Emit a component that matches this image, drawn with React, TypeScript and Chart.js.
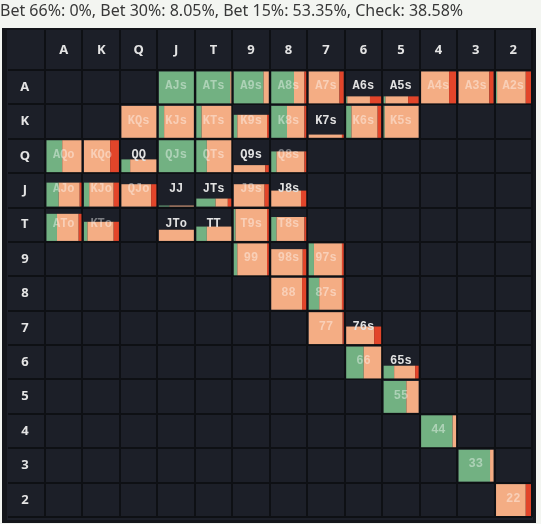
import { useEffect, useRef } from 'react';
import { Chart, registerables } from 'chart.js';

Chart.register(...registerables);

const TITLE = 'Bet 66%: 0%, Bet 30%: 8.05%, Bet 15%: 53.35%, Check: 38.58%';
const RANKS = ['A', 'K', 'Q', 'J', 'T', '9', '8', '7', '6', '5', '4', '3', '2'];

const HANDS = [
  'AJs', 'ATs', 'A9s', 'A8s', 'A7s', 'A6s', 'A5s', 'A4s', 'A3s', 'A2s',
  'KQs', 'KJs', 'KTs', 'K9s', 'K8s', 'K7s', 'K6s', 'K5s',
  'AQo', 'KQo', 'QQ', 'QJs', 'QTs', 'Q9s', 'Q8s',
  'AJo', 'KJo', 'QJo', 'JJ', 'JTs', 'J9s', 'J8s',
  'ATo', 'KTo', 'JTo', 'TT', 'T9s', 'T8s',
  '99', '98s', '97s',
  '88', '87s',
  '77', '76s',
  '66', '65s',
  '55', '44', '33', '22',
];
// share of the combo in range (height of the fill)
const WEIGHT = [
  1, 1, 1, 1, 1, 0.22, 0.22, 1, 1, 1,
  1, 1, 1, 0.72, 1, 0.1, 1, 1,
  1, 1, 0.4, 1, 1, 0.22, 0.65,
  0.75, 0.75, 0.7, 0.03, 0.25, 0.7, 0.5,
  0.85, 0.6, 0.35, 0.45, 1, 0.75,
  1, 0.82, 1,
  1, 1,
  1, 0.55,
  1, 0.4,
  1, 1, 1, 1,
];
const CHECK = [
  1, 0.97, 0.85, 0.65, 0, 0.03, 0.05, 0, 0, 0.03,
  0, 0.15, 0.15, 0.1, 0.45, 0, 0.15, 0.03,
  0.45, 0, 0.25, 1, 0.3, 0, 0.15,
  0.35, 0.15, 0, 0.3, 0.55, 0, 0,
  0.3, 0.1, 0, 0.3, 0.05, 0.15,
  0.1, 0, 0.15,
  0, 0.3,
  0, 0,
  0.5, 0.3,
  0.65, 0.9, 0.9, 0,
];
const BET15 = [
  0, 0.03, 0.15, 0.3, 0.88, 0.65, 0.65, 0.8, 0.88, 0.82,
  1, 0.85, 0.85, 0.85, 0.5, 0.95, 0.75, 0.97,
  0.55, 0.75, 0.75, 0, 0.7, 0.9, 0.8,
  0.6, 0.7, 0.85, 0.7, 0.35, 0.88, 0.85,
  0.62, 0.75, 1, 0.7, 0.9, 0.8,
  0.85, 0.9, 0.8,
  0.88, 0.65,
  0.97, 0.8,
  0.5, 0.6,
  0.35, 0.1, 0.1, 0.85,
];
const BET30 = [
  0, 0, 0, 0.05, 0.12, 0.32, 0.3, 0.2, 0.12, 0.15,
  0, 0, 0, 0.05, 0.05, 0.05, 0.1, 0,
  0, 0.25, 0, 0, 0, 0.1, 0.05,
  0.05, 0.15, 0.15, 0, 0.1, 0.12, 0.15,
  0.08, 0.15, 0, 0, 0.05, 0.05,
  0.05, 0.1, 0.05,
  0.12, 0.05,
  0.03, 0.2,
  0, 0.1,
  0, 0, 0, 0.15,
];

const COLORS = {
  page: '#f3f5f1',
  panelEdge: '#14161b',
  panel: '#1c1f28',
  grid: '#0e1014',
  check: '#72b182',
  bet15: '#f4ad84',
  bet30: '#e2452a',
  header: '#e4e4e4',
};

function cellOf(hand: string): [number, number] {
  const a = RANKS.indexOf(hand[0]);
  const b = RANKS.indexOf(hand[1]);
  if (hand.length === 3 && hand[2] === 'o') return [b, a];
  return [a, b];
}

const cellPlugin = {
  id: 'rangeCells',
  beforeDraw(chart: any) {
    const { ctx, width, height } = chart;
    ctx.save();
    ctx.fillStyle = COLORS.page;
    ctx.fillRect(0, 0, width, height);
    const area = chart.chartArea;
    ctx.fillStyle = COLORS.panelEdge;
    ctx.fillRect(2, area.top - 42, area.right + 4 - 2, area.bottom + 6 - (area.top - 42));
    ctx.fillStyle = COLORS.panel;
    ctx.fillRect(7, area.top - 40, area.right + 1 - 7, area.bottom + 3 - (area.top - 40));
    ctx.restore();
  },
  afterDatasetsDraw(chart: any) {
    const { ctx } = chart;
    const xs = chart.scales.x;
    const ys = chart.scales.y;
    const cw = Math.abs(xs.getPixelForValue(1) - xs.getPixelForValue(0));
    const ch = Math.abs(ys.getPixelForValue(1) - ys.getPixelForValue(0));
    ctx.save();
    HANDS.forEach((hand, i) => {
      const [row, col] = cellOf(hand);
      const cx = xs.getPixelForValue(col);
      const cy = ys.getPixelForValue(row);
      const left = cx - cw / 2 + 1.5;
      const right = cx + cw / 2 - 1;
      const top = cy - ch / 2 + 1.5;
      const bottom = cy + ch / 2 - 1;
      const fh = (bottom - top) * WEIGHT[i];
      const w = right - left;
      const parts = [
        [CHECK[i], COLORS.check],
        [BET15[i], COLORS.bet15],
        [BET30[i], COLORS.bet30],
      ] as [number, string][];
      const total = parts.reduce((s, p) => s + p[0], 0) || 1;
      let x = left;
      parts.forEach(([v, c]) => {
        const pw = (w * v) / total;
        if (pw > 0) {
          ctx.fillStyle = c;
          ctx.fillRect(x, bottom - fh, pw, fh);
        }
        x += pw;
      });
      ctx.font = 'bold 12px "Liberation Mono", "DejaVu Sans Mono", monospace';
      ctx.textAlign = 'center';
      ctx.textBaseline = 'middle';
      ctx.fillStyle = WEIGHT[i] >= 0.6 ? 'rgba(255,255,255,0.42)' : '#e2e2e2';
      ctx.fillText(hand, cx, cy - 1);
    });
    ctx.restore();
  },
};

export default function App() {
  const ref = useRef<HTMLCanvasElement | null>(null);
  useEffect(() => {
    if (!ref.current) return;
    const chart = new Chart(ref.current, {
      type: 'scatter',
      data: {
        datasets: [
          {
            label: 'Range',
            data: HANDS.map((h) => {
              const [r, c] = cellOf(h);
              return { x: RANKS[c], y: RANKS[r] } as any;
            }),
            pointRadius: 0,
            pointHoverRadius: 0,
          },
        ],
      },
      options: {
        animation: false,
        responsive: true,
        maintainAspectRatio: false,
        layout: { padding: { left: 0, right: 9, top: 0, bottom: 7 } },
        plugins: {
          legend: { display: false },
          tooltip: { enabled: false },
          title: {
            display: true,
            text: TITLE,
            align: 'start',
            color: '#383838',
            font: { family: '"Noto Sans", sans-serif', size: 16, weight: 'normal', lineHeight: 1.2 },
            padding: { top: 2, bottom: 7.8 },
          },
        },
        scales: {
          x: {
            type: 'category',
            labels: RANKS,
            position: 'top',
            offset: true,
            grid: { offset: true, color: COLORS.grid, tickColor: COLORS.grid, lineWidth: 2, tickLength: 40 },
            border: { display: true, color: COLORS.grid, width: 2 },
            ticks: {
              color: COLORS.header,
              font: { family: '"Noto Sans", sans-serif', size: 13, weight: 'bold' },
              padding: -28,
              autoSkip: false,
              maxRotation: 0,
            },
            afterFit(s: any) {
              s.height = 41;
            },
          },
          y: {
            type: 'category',
            labels: RANKS,
            position: 'left',
            offset: true,
            grid: { offset: true, color: COLORS.grid, tickColor: COLORS.grid, lineWidth: 2, tickLength: 37 },
            border: { display: true, color: COLORS.grid, width: 2 },
            ticks: {
              color: COLORS.header,
              font: { family: '"Noto Sans", sans-serif', size: 13, weight: 'bold' },
              padding: -22,
              crossAlign: 'center',
              autoSkip: false,
            },
            afterFit(s: any) {
              s.width = 45;
            },
          },
        },
      } as any,
      plugins: [cellPlugin],
    });
    return () => chart.destroy();
  }, []);
  return (
    <div style={{ position: 'absolute', left: 0, top: 0, width: 541, height: 524 }}>
      <canvas ref={ref} />
    </div>
  );
}
